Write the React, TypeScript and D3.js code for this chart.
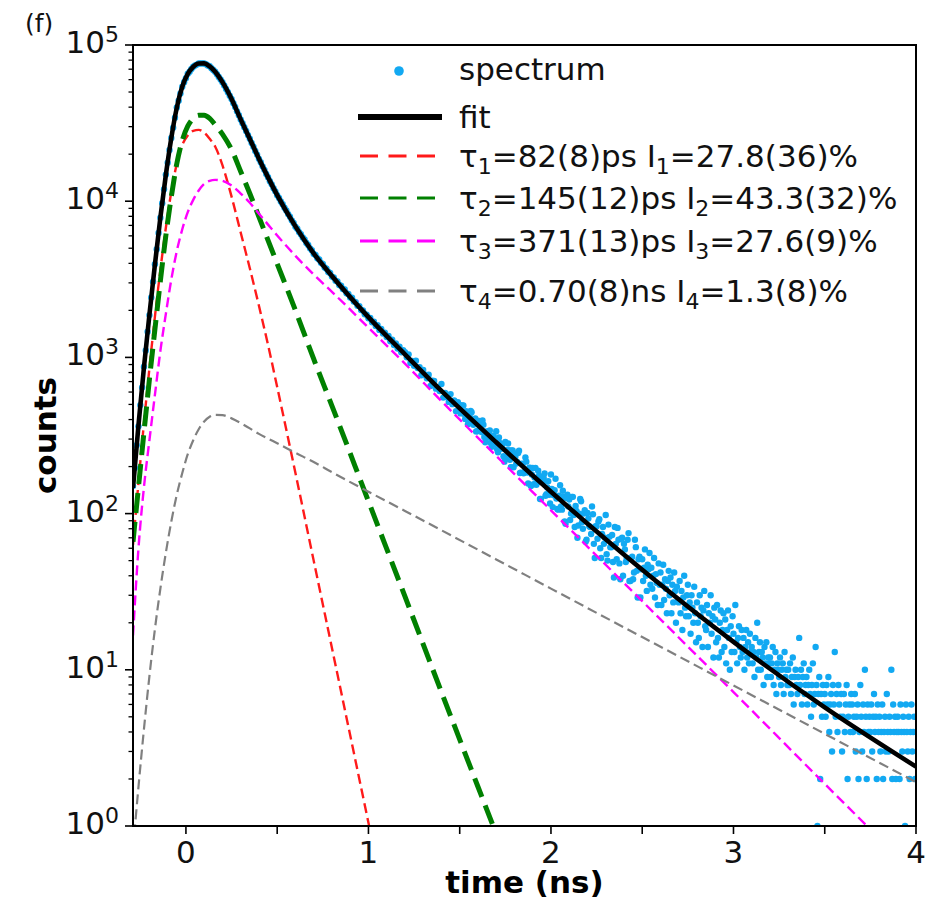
import React from 'react';
import * as d3 from 'd3';

// ---------- data ----------
const curveTimes = [-0.29, -0.26, -0.23, -0.2, -0.17, -0.14, -0.11, -0.08, -0.05, -0.02, 0.01, 0.04, 0.07, 0.1, 0.13, 0.16, 0.2, 0.25, 0.3, 0.35, 0.4, 0.45, 0.5, 0.6, 0.7, 0.8, 1.0, 1.2, 1.4, 1.7, 2.0, 2.5, 3.0, 3.5, 4.0];

const fitCounts = [146, 368, 863, 1879, 3923, 7853, 14746, 25449, 39722, 54192, 65250, 72595, 76147, 76289, 72917, 67429, 57827, 45107, 33390, 25041, 18724, 14202, 10938, 6897, 4631, 3318, 1809, 1046, 610, 286, 138, 43.7, 15.1, 5.75, 2.4];
const tau1Counts = [63, 158, 380, 851, 1820, 3630, 6760, 11500, 17400, 22900, 26300, 28200, 28600, 27500, 25100, 22400, 17000, 10700, 6310, 3720, 2140, 1200, 646, 182, 50, 13.8, 1.05, 0.08];
const tau2Counts = [66, 148, 331, 724, 1510, 3090, 6030, 10700, 17400, 24500, 30200, 33900, 35500, 35500, 33900, 30900, 26900, 21400, 15500, 11200, 7940, 5620, 3980, 2000, 977, 490, 120, 29.5, 7.2, 0.89, 0.11];
const tau3Counts = [16.6, 60, 148, 295, 575, 1100, 1900, 3160, 4790, 6610, 8510, 10200, 11700, 12900, 13500, 13700, 13500, 12600, 11200, 9770, 8320, 7080, 6030, 4470, 3390, 2630, 1550, 912, 525, 234, 105, 27.5, 7.2, 1.86, 0.49];
const tau4Counts = [0.71, 1.78, 4.17, 9.12, 18.2, 33.1, 56.2, 89.1, 132, 182, 240, 295, 347, 389, 417, 429, 427, 407, 380, 351, 324, 302, 282, 245, 214, 184, 138, 104, 78.2, 50.9, 33.1, 16.2, 7.94, 3.89, 1.91];

// measured spectrum: channel start time and width (ns)
const spectrumAStart = -0.29;
const spectrumAStep = 0.01;
const spectrumA = [
  150, 196, 274, 362, 495, 642, 871, 1108, 1462, 1866,
  2420, 3051, 3944, 4921, 6260, 7830, 9712, 11930, 14800, 17650,
  21290, 25410, 29580, 34210, 39800, 43990, 48950, 54120, 57760, 61300,
  65400, 67530, 70240, 72530, 73880, 74910, 76300, 76130, 76290, 76140,
  75240, 73870, 73040, 71030, 69270, 67360, 64950, 62430, 60210, 57720,
  55040, 52280, 49850, 47340, 45160, 42390, 40060, 37600, 35550, 33360,
  31610, 29730, 28170, 26490, 25110, 23610, 22320, 20990, 19860, 18670,
  17740, 16710, 15880, 14960, 14220, 13420, 12820, 12100, 11560, 10910,
  10480, 9950, 9560, 9070, 8720, 8270, 7950, 7540, 7260, 6870,
  6670, 6340, 6150, 5860, 5690, 5400, 5250, 4990, 4850, 4600,
  4520, 4310, 4230, 4030, 3960, 3760, 3700, 3520, 3470, 3290,
  3250, 3100, 3060, 2910, 2880, 2740, 2720, 2570, 2550, 2420,
  2410, 2280, 2260, 2140, 2130, 2010, 2000, 1890, 1880, 1780,
  1790, 1680, 1690, 1590, 1610, 1500, 1520, 1420, 1440, 1350,
  1370, 1270, 1300, 1200, 1230, 1140, 1170, 1080, 1110,
  1080, 1003, 1046, 922, 948, 884, 953, 855, 864, 769,
  832, 774, 736, 775, 657, 708, 706, 631, 648, 610,
  676, 553, 593, 558, 519, 582, 502, 531, 452, 516,
];
const spectrumBStart = 1.5;
const spectrumBStep = 0.005;
const spectrumB = [
  496, 438, 447, 493, 492, 434, 404, 452, 434, 373, 393, 417, 454, 446, 387, 370, 401, 407, 336, 337,
  394, 374, 356, 351, 333, 395, 371, 309, 286, 336, 332, 307, 337, 341, 284, 268, 304, 315, 279, 289,
  337, 258, 247, 307, 283, 261, 261, 278, 233, 215, 288, 255, 229, 281, 255, 221, 198, 254, 254, 198,
  242, 231, 209, 214, 244, 253, 182, 183, 209, 208, 181, 185, 229, 215, 183, 156, 196, 197, 150, 178,
  196, 154, 170, 196, 153, 158, 188, 175, 124, 124, 163, 158, 169, 181, 130, 133, 147, 161, 132, 116,
  178, 144, 110, 131, 141, 167, 125, 107, 106, 130, 152, 111, 106, 140, 128, 89, 86, 126, 132, 111,
  123, 91, 100, 128, 128, 98, 82, 112, 104, 70, 84, 100, 124, 120, 88, 80, 100, 105, 66, 68,
  101, 93, 83, 82, 74, 111, 99, 64, 52, 83, 83, 69, 89, 92, 60, 52, 74, 82, 64, 70,
  98, 55, 50, 85, 71, 61, 61, 73, 49, 39, 82, 64, 51, 81, 68, 48, 38, 69, 70, 40,
  64, 59, 49, 52, 68, 75, 37, 37, 52, 53, 38, 42, 68, 61, 43, 29, 51, 53, 29, 44,
  51, 37, 45, 59, 40, 32, 47, 44, 56, 35,
  45, 33, 40, 52, 29, 41, 36, 26, 48, 35,
  42, 26, 35, 47, 28, 38, 33, 23, 37, 43,
  30, 39, 23, 35, 27, 42, 32, 20, 34, 28,
  27, 37, 23, 32, 18, 29, 40, 25, 22, 30,
  35, 22, 27, 17, 30, 25, 20, 34, 23, 15,
  27, 20, 16, 30, 22, 25, 14, 24, 32, 19,
  18, 26, 14, 23, 20, 30, 17, 22, 12, 25,
  21, 15, 26, 16, 12, 20, 24, 13, 18, 23,
  14, 21, 11, 18, 24, 16, 10, 19, 13, 22,
  17, 13, 26, 15, 11, 16, 19, 14, 12, 18,
  13, 16, 10, 14, 18, 12, 15, 11, 17, 13,
  14, 11, 13, 9, 16, 12, 20, 10, 13, 15,
  10, 13, 12, 8, 14, 11, 15, 9, 12, 11,
  12, 9, 11, 14, 8, 10, 13, 7, 11, 10,
  9, 12, 8, 10, 11, 7, 13, 9, 10, 8,
  10, 8, 11, 7, 9, 12, 6, 9, 10, 8,
  7, 9, 16, 8, 10, 6, 9, 11, 7, 8,
  9, 6, 8, 10, 7, 5, 8, 11, 6, 7,
  14, 8, 1, 7, 9, 2, 7, 5, 8, 6,
  7, 5, 8, 6, 9, 4, 6, 7, 3, 8,
  6, 13, 5, 7, 4, 8, 6, 5, 7, 3,
  5, 7, 4, 6, 8, 2, 5, 6, 4, 7,
  6, 4, 5, 7, 3, 5, 6, 2, 4, 8,
  5, 3, 6, 4, 10, 5, 2, 6, 4, 5,
  4, 6, 3, 5, 7, 4, 5, 2, 6, 4,
  5, 3, 4, 6, 2, 4, 5, 3, 7, 4,
  3, 5, 4, 10, 2, 6, 4, 5, 2, 4,
  5, 4, 2, 6, 4, 3, 5, 4, 1, 6,
  4, 3, 5, 2, 4, 6, 3, 4, 5, 2,
  4,
];

const xTicks = [0, 0.5, 1, 1.5, 2, 2.5, 3, 3.5, 4];
const xTickLabels = ['0', '', '1', '', '2', '', '3', '', '4'];
const yDecades = [0, 1, 2, 3, 4, 5];
const panelLabel = '(f)';
const xLabel = 'time (ns)';
const yLabel = 'counts';

const legendSpectrum = 'spectrum';
const legendFit = 'fit';
// [symbol, subscript, middle, subscript, tail]
const legendTau = [
  ['τ', '1', '=82(8)ps I', '1', '=27.8(36)%'],
  ['τ', '2', '=145(12)ps I', '2', '=43.3(32)%'],
  ['τ', '3', '=371(13)ps I', '3', '=27.6(9)%'],
  ['τ', '4', '=0.70(8)ns I', '4', '=1.3(8)%'],
];

// ---------- layout / style ----------
const W = 933, H = 902;
const PL = 133, PR = 916, PT = 45, PB = 826;
const FONT = 'DejaVu Sans, Verdana, sans-serif';
const FS = 31;
const FS_SMALL = 22;
const BLUE = '#12a9f2';
const compStyles = [
  { color: '#ff1a1a', width: 2.4, dash: '10 5' },
  { color: '#008000', width: 5, dash: '20 9' },
  { color: '#ff00ff', width: 2.4, dash: '10 5' },
  { color: '#808080', width: 2.2, dash: '10 5' },
];
const legendRows = [71, 117, 156, 198, 241, 291];

export default function App() {
  const x = d3.scaleLinear().domain([-0.29, 4.0]).range([PL, PR]);
  const y = d3.scaleLog().domain([1, 1e5]).range([PB, PT]);

  const specPts: { t: number; v: number }[] = [];
  spectrumA.forEach((v, i) => specPts.push({ t: spectrumAStart + i * spectrumAStep, v }));
  spectrumB.forEach((v, i) => specPts.push({ t: spectrumBStart + i * spectrumBStep, v }));

  const lineGen = d3
    .line<[number, number]>()
    .x((d) => x(d[0]))
    .y((d) => y(d[1]))
    .curve(d3.curveMonotoneX);
  const pathOf = (vals: number[]) => lineGen(vals.map((v, i) => [curveTimes[i], v] as [number, number])) || '';

  const comps = [tau1Counts, tau2Counts, tau3Counts, tau4Counts];

  const minorTicks: number[] = [];
  for (let k = 0; k < 5; k++) for (let m = 2; m <= 9; m++) minorTicks.push(m * Math.pow(10, k));

  return (
    <svg width={W} height={H} style={{ position: 'absolute', left: 0, top: 0, background: '#fff' }} fontFamily={FONT}>
      <defs>
        <clipPath id="plotclip">
          <rect x={PL} y={PT} width={PR - PL} height={PB - PT} />
        </clipPath>
      </defs>
      <rect x={0} y={0} width={W} height={H} fill="#fff" />

      <g clipPath="url(#plotclip)">
        {specPts.filter((p) => p.v > 0).map((p, i) => (
          <circle key={i} cx={x(p.t)} cy={y(p.v)} r={3.2} fill={BLUE} />
        ))}
        <path d={pathOf(fitCounts)} fill="none" stroke="#000" strokeWidth={4.6} strokeLinejoin="round" />
        {comps.map((c, i) => (
          <path key={i} d={pathOf(c)} fill="none" stroke={compStyles[i].color} strokeWidth={compStyles[i].width} strokeDasharray={compStyles[i].dash} />
        ))}
      </g>

      {/* spines */}
      <rect x={PL} y={PT} width={PR - PL} height={PB - PT} fill="none" stroke="#000" strokeWidth={2} />

      {/* y ticks */}
      {minorTicks.map((v, i) => (
        <line key={'m' + i} x1={PL} x2={PL - 4.5} y1={y(v)} y2={y(v)} stroke="#000" strokeWidth={1.3} />
      ))}
      {yDecades.map((k) => (
        <g key={'y' + k}>
          <line x1={PL} x2={PL - 8} y1={y(Math.pow(10, k))} y2={y(Math.pow(10, k))} stroke="#000" strokeWidth={1.6} />
          <text x={119} y={y(Math.pow(10, k)) + 8} textAnchor="end" fontSize={FS} fill="#111">
            <tspan>10</tspan>
            <tspan dy={-11} fontSize={FS_SMALL}>{String(k)}</tspan>
          </text>
        </g>
      ))}

      {/* x ticks */}
      {xTicks.map((t, i) => (
        <g key={'x' + i}>
          <line x1={x(t)} x2={x(t)} y1={PB} y2={PB + 8} stroke="#000" strokeWidth={1.6} />
          {xTickLabels[i] && (
            <text x={x(t)} y={863} textAnchor="middle" fontSize={FS} fill="#111">
              {xTickLabels[i]}
            </text>
          )}
        </g>
      ))}

      {/* axis labels */}
      <text x={(PL + PR) / 2} y={893} textAnchor="middle" fontSize={FS} fontWeight="bold" fill="#000">
        {xLabel}
      </text>
      <text transform={`translate(56, ${(PT + PB) / 2}) rotate(-90)`} textAnchor="middle" fontSize={FS} fontWeight="bold" fill="#000">
        {yLabel}
      </text>
      <text x={25} y={32} fontSize={25} fill="#111">{panelLabel}</text>

      {/* legend */}
      <circle cx={399} cy={legendRows[0]} r={4.8} fill={BLUE} />
      <text x={459} y={legendRows[0] + 9} fontSize={FS} fill="#111">{legendSpectrum}</text>
      <line x1={358} x2={442} y1={legendRows[1]} y2={legendRows[1]} stroke="#000" strokeWidth={6} />
      <text x={459} y={legendRows[1] + 11} fontSize={FS} fill="#111">{legendFit}</text>
      {legendTau.map((parts, i) => (
        <g key={'l' + i}>
          <line x1={360} x2={442} y1={legendRows[i + 2]} y2={legendRows[i + 2]} stroke={compStyles[i].color} strokeWidth={3.2} strokeDasharray="18 10.5" />
          <text x={459} y={legendRows[i + 2] + 11} fontSize={FS} fill="#111">
            <tspan>{parts[0]}</tspan>
            <tspan fontSize={FS_SMALL} dy={7}>{parts[1]}</tspan>
            <tspan dy={-7}>{parts[2]}</tspan>
            <tspan fontSize={FS_SMALL} dy={7}>{parts[3]}</tspan>
            <tspan dy={-7}>{parts[4]}</tspan>
          </text>
        </g>
      ))}
    </svg>
  );
}
